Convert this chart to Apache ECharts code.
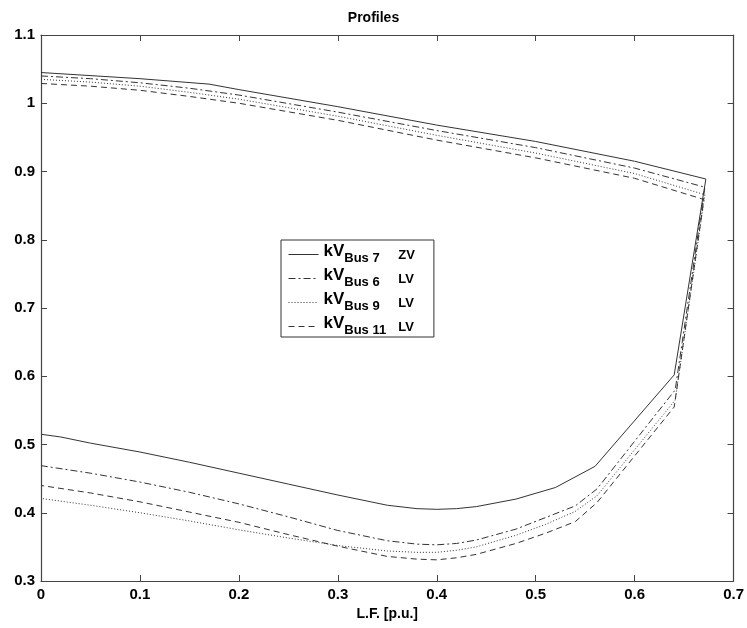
<!DOCTYPE html>
<html>
<head>
<meta charset="utf-8">
<script src="https://cdn.jsdelivr.net/npm/echarts@6/dist/echarts.min.js"></script>
<style>
  html, body { margin: 0; padding: 0; background: #fff; }
  #chart { width: 747px; height: 628px; }
</style>
</head>
<body>
<div id="chart"></div>
<script>
// PV nose curves: upper branch out to the nose, then back along the lower branch
var bus7LF = [0, 0.1, 0.17, 0.2, 0.3, 0.4, 0.5, 0.6, 0.672, 0.64, 0.56, 0.52, 0.48, 0.44, 0.42, 0.4, 0.38, 0.35, 0.3, 0.25, 0.2, 0.15, 0.1, 0.05, 0.02, 0];
var bus7kV = [1.045, 1.036, 1.028, 1.02, 0.995, 0.968, 0.944, 0.915, 0.889, 0.602, 0.468, 0.437, 0.42, 0.409, 0.406, 0.405, 0.406, 0.411, 0.426, 0.442, 0.458, 0.474, 0.489, 0.502, 0.511, 0.515];

var bus6LF = [0, 0.05, 0.1, 0.15, 0.2, 0.3, 0.4, 0.5, 0.6, 0.671, 0.641, 0.562, 0.54, 0.51, 0.48, 0.44, 0.42, 0.4, 0.38, 0.35, 0.3, 0.25, 0.2, 0.15, 0.1, 0.05, 0];
var bus6kV = [1.04, 1.036, 1.03, 1.022, 1.012, 0.987, 0.96, 0.935, 0.905, 0.877, 0.58, 0.435, 0.41, 0.393, 0.376, 0.36, 0.355, 0.353, 0.354, 0.359, 0.374, 0.394, 0.413, 0.43, 0.445, 0.458, 0.469];

var bus9LF = [0, 0.05, 0.1, 0.15, 0.2, 0.3, 0.4, 0.5, 0.6, 0.671, 0.641, 0.562, 0.54, 0.51, 0.48, 0.44, 0.42, 0.4, 0.38, 0.35, 0.3, 0.25, 0.2, 0.15, 0.1, 0.05, 0];
var bus9kV = [1.035, 1.031, 1.025, 1.016, 1.006, 0.981, 0.953, 0.927, 0.897, 0.866, 0.565, 0.425, 0.402, 0.383, 0.367, 0.35, 0.345, 0.342, 0.342, 0.344, 0.352, 0.363, 0.375, 0.388, 0.4, 0.411, 0.421];

var bus11LF = [0, 0.05, 0.1, 0.15, 0.2, 0.3, 0.4, 0.5, 0.6, 0.67, 0.64, 0.562, 0.54, 0.51, 0.48, 0.44, 0.42, 0.4, 0.38, 0.35, 0.3, 0.25, 0.2, 0.15, 0.1, 0.05, 0];
var bus11kV = [1.029, 1.025, 1.019, 1.01, 1.0, 0.975, 0.946, 0.92, 0.89, 0.859, 0.555, 0.415, 0.387, 0.37, 0.355, 0.339, 0.334, 0.331, 0.332, 0.336, 0.351, 0.368, 0.386, 0.401, 0.416, 0.429, 0.44];

var seriesNames = ['Bus 7', 'Bus 6', 'Bus 9', 'Bus 11'];
var zoneNames = ['ZV', 'LV', 'LV', 'LV'];

function pairs(xs, ys) {
    var out = [];
    for (var i = 0; i < xs.length; i++) out.push([xs[i], ys[i]]);
    return out;
}

var fontFam = '"Liberation Sans", Arial, sans-serif';
var lineCol = '#333';

var myChart = echarts.init(document.getElementById('chart'));

function mkSeries(name, xs, ys, dash) {
    return {
        name: name,
        type: 'line',
        data: pairs(xs, ys),
        showSymbol: false,
        symbol: 'none',
        animation: false,
        lineStyle: { color: lineCol, width: 1, type: dash },
        itemStyle: { color: lineCol }
    };
}

var axisCommon = {
    axisLine: { show: true, onZero: false, lineStyle: { color: '#444', width: 1.2 } },
    axisTick: { show: true, inside: true, length: 6, lineStyle: { color: '#444' } },
    splitLine: { show: false }
};

var option = {
    backgroundColor: '#fff',
    animation: false,
    title: {
        text: 'Profiles',
        left: 'center',
        top: 6,
        textStyle: { fontFamily: fontFam, fontSize: 14, fontWeight: 'bold', color: '#000' }
    },
    grid: { left: 41, right: 13, top: 35, bottom: 47 },
    legend: {
        show: true,
        orient: 'vertical',
        left: 281,
        top: 240,
        padding: [3, 19, 0, 7],
        itemGap: 2,
        itemWidth: 30,
        itemHeight: 10,
        backgroundColor: '#fff',
        borderColor: '#333',
        borderWidth: 1,
        itemStyle: { opacity: 0 },
        lineStyle: { width: 1 },
        data: seriesNames,
        formatter: function (name) {
            var i = seriesNames.indexOf(name);
            return '{a|kV}{b|' + name + '}{c|' + zoneNames[i] + '}';
        },
        textStyle: {
            fontFamily: fontFam,
            color: '#000',
            rich: {
                a: { fontSize: 17, fontWeight: 'bold', fontFamily: fontFam, color: '#000', padding: [0, 0, 6, 0] },
                b: { fontSize: 13, fontWeight: 'bold', fontFamily: fontFam, color: '#000', padding: [8, 0, 0, 0], width: 54 },
                c: { fontSize: 13, fontWeight: 'bold', fontFamily: fontFam, color: '#000', padding: [2, 0, 0, 0] }
            }
        }
    },
    xAxis: [
        Object.assign({
            type: 'value',
            position: 'bottom',
            min: 0,
            max: 0.7,
            interval: 0.1,
            name: 'L.F. [p.u.]',
            nameLocation: 'middle',
            nameGap: 24,
            nameTextStyle: { fontFamily: fontFam, fontSize: 14, fontWeight: 'bold', color: '#000' },
            axisLabel: { fontFamily: fontFam, fontSize: 15, fontWeight: 'bold', color: '#000', margin: 6 }
        }, axisCommon),
        Object.assign({
            type: 'value',
            position: 'top',
            min: 0,
            max: 0.7,
            interval: 0.1,
            axisLabel: { show: false }
        }, axisCommon)
    ],
    yAxis: [
        Object.assign({
            type: 'value',
            position: 'left',
            min: 0.3,
            max: 1.1,
            interval: 0.1,
            axisLabel: { fontFamily: fontFam, fontSize: 15, fontWeight: 'bold', color: '#000', margin: 6 }
        }, axisCommon),
        Object.assign({
            type: 'value',
            position: 'right',
            min: 0.3,
            max: 1.1,
            interval: 0.1,
            axisLabel: { show: false }
        }, axisCommon)
    ],
    series: [
        mkSeries(seriesNames[0], bus7LF, bus7kV, 'solid'),
        mkSeries(seriesNames[1], bus6LF, bus6kV, [7, 3, 2, 3]),
        mkSeries(seriesNames[2], bus9LF, bus9kV, [1, 2]),
        mkSeries(seriesNames[3], bus11LF, bus11kV, [6, 4])
    ]
};

myChart.setOption(option);
</script>
</body>
</html>
